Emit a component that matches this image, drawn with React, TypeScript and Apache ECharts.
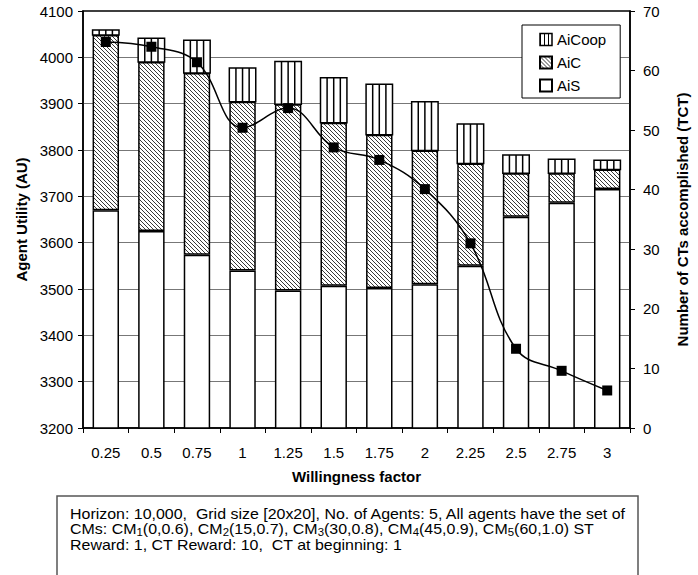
import React, { useEffect, useRef } from 'react';
import * as echarts from 'echarts';

const categories = ['0.25', '0.5', '0.75', '1', '1.25', '1.5', '1.75', '2', '2.25', '2.5', '2.75', '3'];
// stacked segments (Agent Utility)
const aisValues = [3670, 3625, 3574, 3540, 3497, 3507, 3502, 3510, 3550, 3656, 3686, 3716];
const aicValues = [378, 365, 392, 364, 402, 352, 331, 289, 221, 94, 64, 42];
const aicoopValues = [11, 51, 71, 73, 92, 97, 109, 105, 85, 39, 30, 20];
// Number of CTs accomplished
const tctValues = [64.8, 64.0, 61.4, 50.4, 53.7, 47.1, 45.0, 40.1, 31.0, 13.3, 9.6, 6.3];

const FONT = '"Liberation Sans", Arial, Helvetica, sans-serif';

function makeHatch() {
  const c = document.createElement('canvas');
  c.width = 4;
  c.height = 4;
  const ctx = c.getContext('2d')!;
  ctx.fillStyle = '#fff';
  ctx.fillRect(0, 0, 4, 4);
  ctx.fillStyle = '#3a3a3a';
  for (let i = 0; i < 4; i++) ctx.fillRect(i, i, 1, 1);
  return c;
}

function makeStripe() {
  const c = document.createElement('canvas');
  c.width = 4;
  c.height = 4;
  const ctx = c.getContext('2d')!;
  ctx.fillStyle = '#fff';
  ctx.fillRect(0, 0, 4, 4);
  ctx.fillStyle = '#000';
  ctx.fillRect(0, 0, 1, 4);
  return c;
}

export default function App() {
  const ref = useRef<HTMLDivElement>(null);
  useEffect(() => {
    if (!ref.current) return;
    const chart = echarts.init(ref.current, null, { renderer: 'svg' });
    const hatch: any = { image: makeHatch().toDataURL(), repeat: 'repeat', imageWidth: 4, imageHeight: 4 };
    const stripe: any = { image: makeStripe().toDataURL(), repeat: 'repeat', imageWidth: 4, imageHeight: 4 };
    const barRatio = 0.58;

    const option: any = {
      animation: false,
      backgroundColor: '#fff',
      textStyle: { fontFamily: FONT, color: '#000' },
      grid: {
        left: 83, right: 58, top: 11, bottom: 147,
        show: true, borderColor: '#000', borderWidth: 1.5, backgroundColor: 'transparent',
      },
      legend: {
        data: [
          { name: 'AiCoop', itemStyle: { color: stripe, borderColor: '#000', borderWidth: 1.5 } },
          { name: 'AiC' },
          { name: 'AiS' },
        ],
        orient: 'vertical',
        left: 522, top: 25,
        icon: 'rect',
        itemWidth: 12, itemHeight: 12, itemGap: 8,
        padding: [7, 14, 5, 17],
        borderColor: '#000', borderWidth: 1, backgroundColor: '#fff',
        selectedMode: false,
        textStyle: { fontSize: 15, color: '#000', fontFamily: FONT, lineHeight: 14 },
      },
      xAxis: {
        type: 'category',
        data: categories,
        name: 'Willingness factor',
        nameLocation: 'middle',
        nameGap: 41,
        nameTextStyle: { fontWeight: 'bold', fontSize: 15, color: '#000', fontFamily: FONT },
        axisLine: { show: true, lineStyle: { color: '#000', width: 1.5 } },
        axisTick: { show: true, length: 5, alignWithLabel: false, interval: 0, lineStyle: { color: '#000' } },
        axisLabel: { interval: 0, fontSize: 15, color: '#000', margin: 17, fontFamily: FONT },
        splitLine: { show: false },
      },
      yAxis: [
        {
          type: 'value', min: 3200, max: 4100, interval: 100, position: 'left',
          name: 'Agent Utility (AU)', nameLocation: 'middle', nameGap: 52, nameRotate: 90,
          nameTextStyle: { fontWeight: 'bold', fontSize: 15, color: '#000', fontFamily: FONT },
          axisLine: { show: true, lineStyle: { color: '#000', width: 1.5 } },
          axisTick: { show: true, length: 5, lineStyle: { color: '#000' } },
          axisLabel: { fontSize: 15, color: '#000', margin: 10, fontFamily: FONT, formatter: (v: number) => String(v) },
          splitLine: { show: true, showMinLine: false, showMaxLine: false, lineStyle: { color: '#777', width: 1 } },
        },
        {
          type: 'value', min: 0, max: 70, interval: 10, position: 'right',
          name: 'Number of CTs accomplished (TCT)', nameLocation: 'middle', nameGap: 45, nameRotate: 90,
          nameTextStyle: { fontWeight: 'bold', fontSize: 15, color: '#000', fontFamily: FONT },
          axisLine: { show: true, lineStyle: { color: '#000', width: 1.5 } },
          axisTick: { show: true, length: 5, lineStyle: { color: '#000' } },
          axisLabel: { fontSize: 15, color: '#000', margin: 13, fontFamily: FONT },
          splitLine: { show: false },
        },
      ],
      series: [
        {
          name: 'AiS', type: 'bar', stack: 'u', barWidth: `${barRatio * 100}%`,
          data: aisValues,
          itemStyle: { color: '#fff', borderColor: '#000', borderWidth: 1.5 },
        },
        {
          name: 'AiC', type: 'bar', stack: 'u', barWidth: `${barRatio * 100}%`,
          data: aicValues,
          itemStyle: { color: hatch, borderColor: '#000', borderWidth: 1.5 },
        },
        {
          name: 'AiCoop', type: 'custom', yAxisIndex: 0,
          data: aicoopValues.map((v, i) => [i, v]),
          encode: { x: 0, y: 1 },
          itemStyle: { color: stripe, borderColor: '#000', borderWidth: 1.5 },
          renderItem: (params: any, api: any) => {
            const i = api.value(0) as number;
            const base = aisValues[i] + aicValues[i];
            const top = base + (api.value(1) as number);
            const pb = api.coord([i, base]);
            const pt = api.coord([i, top]);
            const band = (api.size([1, 0]) as number[])[0];
            const w = band * barRatio;
            const x0 = pb[0] - w / 2;
            const h = pb[1] - pt[1];
            const children: any[] = [
              { type: 'rect', shape: { x: x0, y: pt[1], width: w, height: h }, style: { fill: '#fff', stroke: '#000', lineWidth: 1.5 } },
            ];
            for (let k = 1; k < 4; k++) {
              const xx = x0 + (w * k) / 4;
              children.push({ type: 'line', shape: { x1: xx, y1: pt[1], x2: xx, y2: pb[1] }, style: { stroke: '#000', lineWidth: 1.5 } });
            }
            return { type: 'group', children };
          },
          z: 2,
        },
        {
          name: 'TCT', type: 'line', yAxisIndex: 1,
          data: tctValues,
          smooth: 0.4,
          symbol: 'rect', symbolSize: 10,
          itemStyle: { color: '#000' },
          lineStyle: { color: '#000', width: 1.5 },
          z: 5,
        },
      ],
      graphic: [
        {
          type: 'rect', silent: true,
          shape: { x: 57, y: 496, width: 581, height: 95 },
          style: { fill: '#fff', stroke: '#555', lineWidth: 1.5 },
        },
        {
          type: 'text', silent: true, x: 70, y: 506, scaleX: 1.14, scaleY: 1,
          style: {
            text:
              'Horizon: 10,000,  Grid size [20x20], No. of Agents: 5, All agents have the set of\n' +
              'CMs: CM{s|1}(0,0.6), CM{s|2}(15,0.7), CM{s|3}(30,0.8), CM{s|4}(45,0.9), CM{s|5}(60,1.0) ST\n' +
              'Reward: 1, CT Reward: 10,  CT at beginning: 1',
            fill: '#000', fontSize: 14, fontFamily: FONT, lineHeight: 15.5,
            verticalAlign: 'top', align: 'left',
            rich: {
              s: { fontSize: 10, lineHeight: 6, verticalAlign: 'bottom', fontFamily: FONT, fill: '#000' },
            },
          },
        },
      ],
    };
    chart.setOption(option);
    return () => chart.dispose();
  }, []);
  return <div ref={ref} style={{ position: 'absolute', left: 0, top: 0, width: 698, height: 575 }} />;
}
